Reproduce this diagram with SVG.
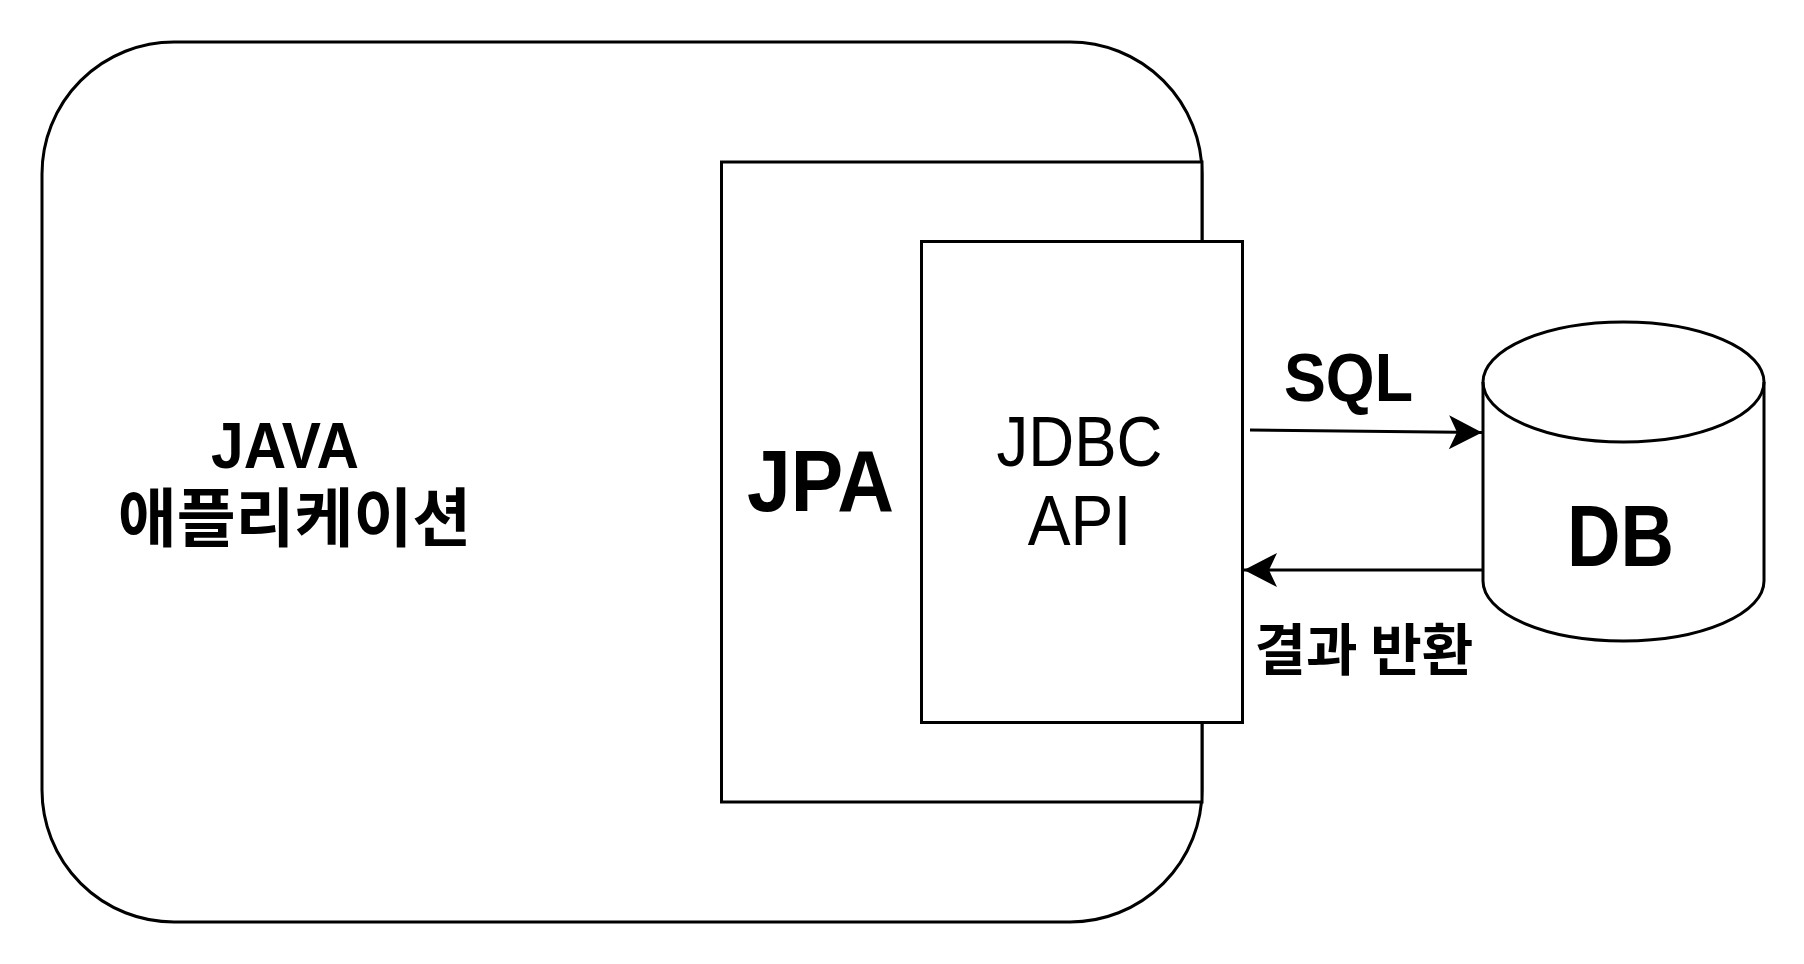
<svg xmlns="http://www.w3.org/2000/svg" width="1804" height="964" viewBox="0 0 1804 964">
<style>
.sh{fill:#fff;stroke:#000;stroke-width:3}
.ln{fill:none;stroke:#000;stroke-width:3}
.t{font-family:"Liberation Sans","Noto Sans CJK KR",Arial,sans-serif;fill:#000;text-anchor:middle}
.k{font-family:"Noto Sans CJK KR","Liberation Sans",sans-serif;fill:#000;text-anchor:middle}
.b{font-weight:bold}
</style>
<defs>
<marker id="ah" markerUnits="userSpaceOnUse" markerWidth="40" markerHeight="40" viewBox="-36 -20 40 40" refX="0" refY="0" orient="auto">
<path d="M0,0 L-33,-17 L-25,0 L-33,17 Z" fill="#000"/>
</marker>
</defs>
<rect width="1804" height="964" fill="#fff"/>
<g id="app">
<rect class="sh" x="42" y="42" width="1160" height="880" rx="132" ry="132"/>
<text class="t b" font-size="64"><tspan x="285" y="468" textLength="148" lengthAdjust="spacingAndGlyphs">JAVA</tspan><tspan class="k" x="294.5" y="541">애플리케이션</tspan></text>
</g>
<g id="jpa">
<rect class="sh" x="721.5" y="162" width="480.5" height="640"/>
<text class="t b" x="820.5" y="511" font-size="87" textLength="147" lengthAdjust="spacingAndGlyphs">JPA</text>
</g>
<g id="jdbc">
<rect class="sh" x="921.5" y="241.5" width="321" height="481"/>
<text class="t" font-size="71"><tspan x="1079.5" y="466" textLength="166" lengthAdjust="spacingAndGlyphs">JDBC</tspan><tspan x="1079.5" y="545" textLength="103.5" lengthAdjust="spacingAndGlyphs">API</tspan></text>
</g>
<g id="db">
<path class="sh" d="M1483,382 a140.5,60 0 0 1 281,0 v199 a140.5,60 0 0 1 -281,0 z"/>
<path class="ln" d="M1483,382 a140.5,60 0 0 0 281,0"/>
<text class="t b" x="1620.5" y="566" font-size="87" textLength="107" lengthAdjust="spacingAndGlyphs">DB</text>
</g>
<g id="connectors">
<line class="ln" x1="1250" y1="430" x2="1482" y2="432.5" marker-end="url(#ah)"/>
<line class="ln" x1="1483" y1="570" x2="1244" y2="570" marker-end="url(#ah)"/>
<text class="t b" x="1348.5" y="401" font-size="68" textLength="129" lengthAdjust="spacingAndGlyphs">SQL</text>
<text class="k b" x="1364" y="670" font-size="56">결과 반환</text>
</g>
</svg>
